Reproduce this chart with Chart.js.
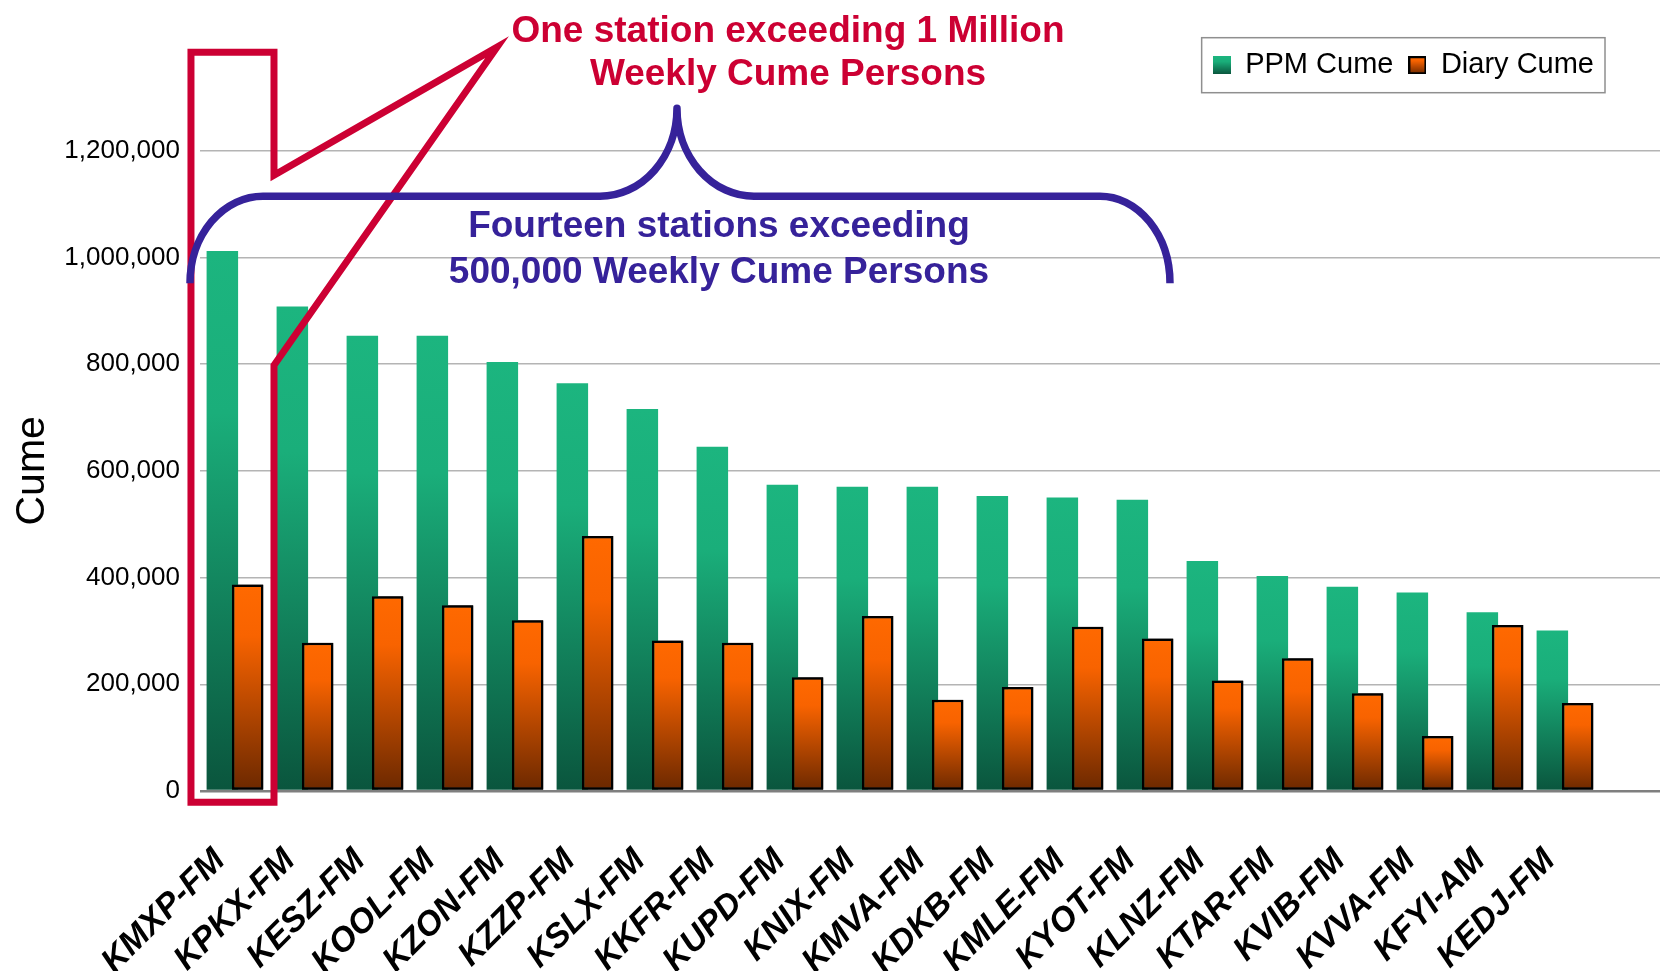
<!DOCTYPE html>
<html>
<head>
<meta charset="utf-8">
<script src="https://cdn.jsdelivr.net/npm/chart.js@4.4.1/dist/chart.umd.min.js"></script>
<style>
  html, body { margin: 0; padding: 0; background: #ffffff; overflow: hidden; }
  #wrap { width: 1660px; height: 971px; position: relative; overflow: hidden; }
  canvas { display: block; }
</style>
</head>
<body>
<div id="wrap"><canvas id="c" width="1670" height="971"></canvas></div>
<script>
// ---------------- data ----------------
const stations = ['KMXP-FM','KPKX-FM','KESZ-FM','KOOL-FM','KZON-FM','KZZP-FM','KSLX-FM','KKFR-FM','KUPD-FM','KNIX-FM',
                  'KMVA-FM','KDKB-FM','KMLE-FM','KYOT-FM','KLNZ-FM','KTAR-FM','KVIB-FM','KVVA-FM','KFYI-AM','KEDJ-FM'];
const ppmCume   = [1012000, 908000, 853000, 853000, 804000, 764000, 716000, 645000, 574000, 570000,
                   570000, 553000, 550000, 546000, 431000, 403000, 383000, 372000, 335000, 301000];
const diaryCume = [387000, 278000, 365000, 348000, 320000, 478000, 282000, 278000, 213000, 328000,
                   171000, 195000, 308000, 286000, 207000, 249000, 183000, 103000, 311000, 165000];
const seriesNames = ['PPM Cume', 'Diary Cume'];
const yTickStep = 200000;
const yMax = 1200000;
const yTitle = 'Cume';
const redNote  = ['One station exceeding 1 Million', 'Weekly Cume Persons'];
const blueNote = ['Fourteen stations exceeding', '500,000 Weekly Cume Persons'];

// annotation geometry in data units: [category index, value]
const redCallout = [[-0.629, 1384600], [0.557, 1384600], [0.557, 1154100], [3.743, 1394000],
                    [0.557, 797900], [0.557, -21200], [-0.629, -21200]];
const braceX = [-0.643, 0.4, 5.214, 6.314, 7.414, 12.357, 13.357];
const braceY = [951600, 1114700, 1279600];
const redTextPos  = [[7.9, 1403400], [7.9, 1322800]];
const blueTextPos = [[6.914, 1037900], [6.914, 951700]];

// ---------------- styling ----------------
const FAMILY = "'Liberation Sans', Arial, Helvetica, sans-serif";
const greenStops  = [[0, '#1cb57f'], [0.3, '#1aae7a'], [1, '#0a553d']];
const orangeStops = [[0, '#ff6900'], [0.25, '#f86300'], [1, '#6b2800']];
const RED = '#cc0033';
const BLUE = '#36229a';

function barGradient(ctx, stops) {
  const chart = ctx.chart;
  if (!chart.chartArea || ctx.dataIndex === undefined || ctx.raw == null) return stops[0][1];
  const ys = chart.scales.y;
  const top = ys.getPixelForValue(ctx.raw);
  const bottom = ys.getPixelForValue(0);
  const g = chart.ctx.createLinearGradient(0, top, 0, bottom);
  stops.forEach(s => g.addColorStop(s[0], s[1]));
  return g;
}

function makeIcon(stops, border) {
  const cv = document.createElement('canvas');
  cv.width = 18; cv.height = 18;
  const c = cv.getContext('2d');
  const g = c.createLinearGradient(0, 0, 0, 18);
  stops.forEach(s => g.addColorStop(s[0], s[1]));
  c.fillStyle = g;
  c.fillRect(0, 0, 18, 18);
  if (border) { c.strokeStyle = '#000'; c.lineWidth = 2; c.strokeRect(1, 1, 16, 16); }
  return cv;
}
const legendIcons = [makeIcon(greenStops, false), makeIcon(orangeStops, true)];

const annotPlugin = {
  id: 'annot',
  afterLayout(chart) {
    const lg = chart.legend;
    if (lg) { lg.top -= 61; lg.bottom -= 61; lg.right = 1609; }
  },
  afterDatasetsDraw(chart) {
    // draw the Diary series over the PPM series (as in the original)
    const meta = chart.getDatasetMeta(1);
    chart.ctx.save();
    meta.controller.draw();
    chart.ctx.restore();
  },
  afterDraw(chart) {
    const c = chart.ctx;
    const xs = chart.scales.x, ys = chart.scales.y;
    const px = v => xs.getPixelForValue(v);
    const py = v => ys.getPixelForValue(v);

    // legend frame
    const lg = chart.legend;
    if (lg && lg.lineWidths) {
      const p = lg.options.labels.padding;
      const lw = lg.lineWidths[0];
      const startX = lg.right - lw;
      const cy = lg.top + p + 14.5;
      c.save();
      c.strokeStyle = '#8f8f8f';
      c.lineWidth = 1.5;
      c.strokeRect(startX - 11, cy - 27.5, lw - p + 22, 55);
      c.restore();
    }

    // red callout
    c.save();
    c.strokeStyle = RED;
    c.lineWidth = 7;
    c.lineJoin = 'miter';
    c.miterLimit = 10;
    c.beginPath();
    redCallout.forEach((pt, i) => {
      const X = px(pt[0]), Y = py(pt[1]);
      if (i === 0) c.moveTo(X, Y); else c.lineTo(X, Y);
    });
    c.closePath();
    c.stroke();
    c.restore();

    // blue brace
    const bx = braceX.map(px);
    const yEnd = py(braceY[0]), yLine = py(braceY[1]), yPeak = py(braceY[2]);
    c.save();
    c.strokeStyle = BLUE;
    c.lineWidth = 7.5;
    c.lineJoin = 'round';
    c.lineCap = 'butt';
    c.beginPath();
    c.moveTo(bx[0], yEnd);
    c.ellipse(bx[1], yEnd, bx[1] - bx[0], yEnd - yLine, 0, Math.PI, 1.5 * Math.PI, false);
    c.lineTo(bx[2], yLine);
    c.ellipse(bx[2], yPeak, bx[3] - bx[2], yLine - yPeak, 0, 0.5 * Math.PI, 0, true);
    c.ellipse(bx[4], yPeak, bx[4] - bx[3], yLine - yPeak, 0, Math.PI, 0.5 * Math.PI, true);
    c.lineTo(bx[5], yLine);
    c.ellipse(bx[5], yEnd, bx[6] - bx[5], yEnd - yLine, 0, 1.5 * Math.PI, 2 * Math.PI, false);
    c.stroke();
    c.restore();

    // texts
    c.save();
    c.font = 'bold 37px ' + FAMILY;
    c.textAlign = 'center';
    c.textBaseline = 'alphabetic';
    c.fillStyle = RED;
    redNote.forEach((t, i) => c.fillText(t, px(redTextPos[i][0]), py(redTextPos[i][1])));
    c.fillStyle = BLUE;
    blueNote.forEach((t, i) => c.fillText(t, px(blueTextPos[i][0]), py(blueTextPos[i][1])));
    c.restore();
  }
};

Chart.defaults.font.family = FAMILY;
Chart.defaults.color = '#000';

const chart = new Chart(document.getElementById('c').getContext('2d'), {
  type: 'bar',
  data: {
    labels: [...stations, ''],
    datasets: [
      {
        label: seriesNames[0],
        data: ppmCume,
        backgroundColor: ctx => barGradient(ctx, greenStops),
        borderWidth: 0,
        categoryPercentage: 0.723,
        barPercentage: 1.245
      },
      {
        label: seriesNames[1],
        data: diaryCume,
        backgroundColor: ctx => barGradient(ctx, orangeStops),
        borderColor: '#000',
        borderWidth: 2.5,
        borderSkipped: false,
        categoryPercentage: 0.723,
        barPercentage: 1.245
      }
    ]
  },
  options: {
    responsive: false,
    animation: false,
    devicePixelRatio: 1,
    events: [],
    layout: { padding: { top: 96.7, right: 0, bottom: 0, left: 0 } },
    plugins: {
      tooltip: { enabled: false },
      legend: {
        position: 'top',
        align: 'end',
        labels: {
          font: { size: 29, family: FAMILY },
          color: '#000',
          usePointStyle: true,
          boxWidth: 18,
          padding: 15,
          generateLabels(chart) {
            const items = Chart.defaults.plugins.legend.labels.generateLabels(chart);
            items.forEach((it, i) => { it.pointStyle = legendIcons[i]; });
            return items;
          }
        }
      }
    },
    scales: {
      x: {
        grid: { display: false, drawTicks: false },
        border: { display: false },
        ticks: {
          autoSkip: false,
          maxRotation: 45,
          minRotation: 45,
          padding: 50,
          labelOffset: -15,
          color: '#000',
          font: { size: 34, weight: 'bold', style: 'italic', family: FAMILY }
        },
        afterFit(s) { s.height = 180; s.paddingLeft = 0; s.paddingRight = 0; }
      },
      y: {
        min: 0,
        max: yMax,
        ticks: {
          stepSize: yTickStep,
          padding: 20,
          color: '#000',
          font: { size: 26, family: FAMILY },
          callback: v => Number(v).toLocaleString('en-US')
        },
        grid: {
          drawTicks: false,
          color: ctx => (ctx.tick && ctx.tick.value === 0) ? '#7f7f7f' : '#b4b4b4',
          lineWidth: ctx => (ctx.tick && ctx.tick.value === 0) ? 2.5 : 1.5
        },
        border: { display: false },
        title: {
          display: true,
          text: yTitle,
          color: '#000',
          font: { size: 41, family: FAMILY },
          padding: { top: 8, bottom: 0 }
        },
        afterFit(s) { s.width = 200; }
      }
    }
  },
  plugins: [annotPlugin]
});
</script>
</body>
</html>
